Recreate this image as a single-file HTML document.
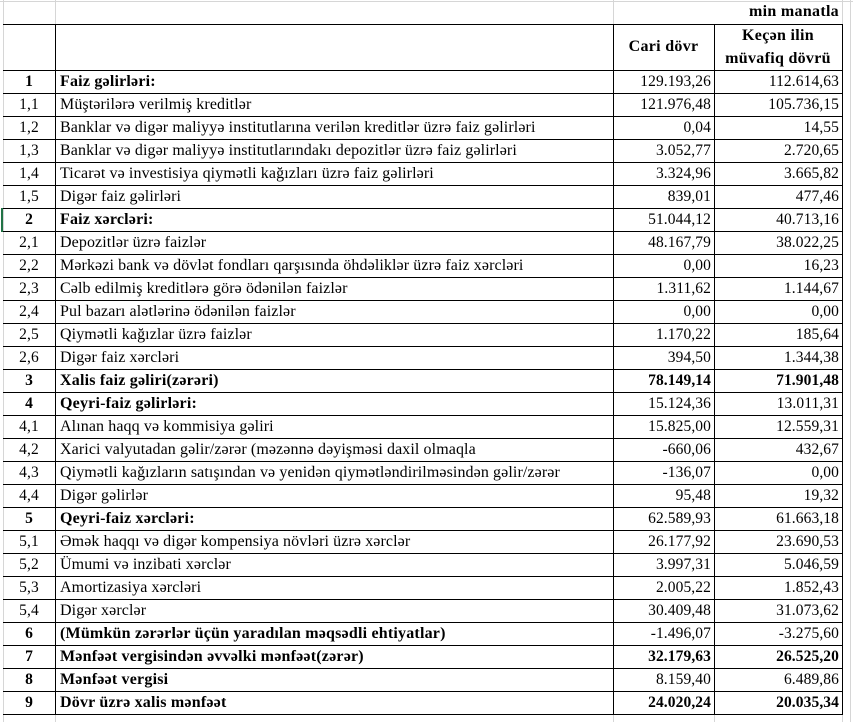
<!DOCTYPE html>
<html><head><meta charset="utf-8">
<style>
html,body{margin:0;padding:0;background:#fff;}
body{width:853px;height:722px;position:relative;overflow:hidden;font-family:"Liberation Serif","DejaVu Serif",serif;color:#000;}
.g{position:absolute;background:#d6d6d6;}
.k{position:absolute;background:#000;}
.r{position:absolute;left:0;width:853px;height:22px;line-height:22px;font-size:16px;white-space:nowrap;letter-spacing:0.1px;}
.n{position:absolute;left:3px;width:52px;text-align:center;font-size:15.5px;}
.l{position:absolute;left:60px;}
.l.B{letter-spacing:0.2px;}
.a{position:absolute;left:613px;width:98px;text-align:right;font-size:15.5px;}
.b{position:absolute;left:714px;width:125px;text-align:right;font-size:15.5px;}
.B{font-weight:bold;}
.h{font-size:16px;letter-spacing:0.3px;}
</style></head><body>
<!-- gray gridlines -->
<div class="g" style="left:0;top:1px;width:853px;height:1px"></div>
<div class="g" style="left:3px;top:0;width:1px;height:722px"></div>
<div class="g" style="left:55px;top:0;width:1px;height:24px"></div>
<div class="g" style="left:613px;top:0;width:1px;height:24px"></div>
<div class="g" style="left:842px;top:0;width:1px;height:24px"></div>
<div class="g" style="left:850px;top:0;width:1px;height:722px"></div>
<div class="g" style="left:55px;top:714px;width:1px;height:8px"></div>
<div class="g" style="left:613px;top:714px;width:1px;height:8px"></div>
<div class="g" style="left:714px;top:714px;width:1px;height:8px"></div>
<div class="g" style="left:842px;top:714px;width:1px;height:8px"></div>
<!-- green marker -->
<div style="position:absolute;left:1px;top:208px;width:2px;height:24px;background:#217346"></div>

<!-- black horizontal lines -->
<div class="k" style="left:3px;top:24px;width:840px;height:1px"></div>
<div class="k" style="left:3px;top:70px;width:840px;height:1px"></div>
<div class="k" style="left:3px;top:93px;width:840px;height:1px"></div>
<div class="k" style="left:3px;top:116px;width:840px;height:1px"></div>
<div class="k" style="left:3px;top:139px;width:840px;height:1px"></div>
<div class="k" style="left:3px;top:162px;width:840px;height:1px"></div>
<div class="k" style="left:3px;top:185px;width:840px;height:1px"></div>
<div class="k" style="left:3px;top:208px;width:840px;height:1px"></div>
<div class="k" style="left:3px;top:231px;width:840px;height:1px"></div>
<div class="k" style="left:3px;top:254px;width:840px;height:1px"></div>
<div class="k" style="left:3px;top:277px;width:840px;height:1px"></div>
<div class="k" style="left:3px;top:300px;width:840px;height:1px"></div>
<div class="k" style="left:3px;top:323px;width:840px;height:1px"></div>
<div class="k" style="left:3px;top:346px;width:840px;height:1px"></div>
<div class="k" style="left:3px;top:369px;width:840px;height:1px"></div>
<div class="k" style="left:3px;top:392px;width:840px;height:1px"></div>
<div class="k" style="left:3px;top:415px;width:840px;height:1px"></div>
<div class="k" style="left:3px;top:438px;width:840px;height:1px"></div>
<div class="k" style="left:3px;top:461px;width:840px;height:1px"></div>
<div class="k" style="left:3px;top:484px;width:840px;height:1px"></div>
<div class="k" style="left:3px;top:507px;width:840px;height:1px"></div>
<div class="k" style="left:3px;top:530px;width:840px;height:1px"></div>
<div class="k" style="left:3px;top:553px;width:840px;height:1px"></div>
<div class="k" style="left:3px;top:576px;width:840px;height:1px"></div>
<div class="k" style="left:3px;top:599px;width:840px;height:1px"></div>
<div class="k" style="left:3px;top:622px;width:840px;height:1px"></div>
<div class="k" style="left:3px;top:645px;width:840px;height:1px"></div>
<div class="k" style="left:3px;top:668px;width:840px;height:1px"></div>
<div class="k" style="left:3px;top:691px;width:840px;height:1px"></div>
<div class="k" style="left:3px;top:714px;width:840px;height:1px"></div>
<!-- black verticals -->
<div class="k" style="left:55px;top:24px;width:1px;height:691px"></div>
<div class="k" style="left:613px;top:24px;width:1px;height:691px"></div>
<div class="k" style="left:714px;top:24px;width:1px;height:691px"></div>
<div class="k" style="left:842px;top:24px;width:1px;height:691px"></div>

<!-- header -->
<div class="r B" style="top:1px"><span class="b h">min manatla</span></div>
<div class="r B" style="top:36px"><span class="a h" style="width:101px;text-align:center">Cari dövr</span></div>
<div class="r B" style="top:24px;height:23px;line-height:23px"><span class="b h" style="width:128px;text-align:center">Keçən ilin</span></div>
<div class="r B" style="top:47px;height:23px;line-height:23px"><span class="b h" style="width:128px;text-align:center">müvafiq dövrü</span></div>

<!-- rows -->
<div class="r" style="top:71px"><span class="n B">1</span><span class="l B">Faiz gəlirləri:</span><span class="a">129.193,26</span><span class="b">112.614,63</span></div>
<div class="r" style="top:94px"><span class="n">1,1</span><span class="l">Müştərilərə verilmiş kreditlər</span><span class="a">121.976,48</span><span class="b">105.736,15</span></div>
<div class="r" style="top:117px"><span class="n">1,2</span><span class="l">Banklar və digər maliyyə institutlarına verilən kreditlər üzrə faiz gəlirləri</span><span class="a">0,04</span><span class="b">14,55</span></div>
<div class="r" style="top:140px"><span class="n">1,3</span><span class="l">Banklar və digər maliyyə institutlarındakı depozitlər üzrə faiz gəlirləri</span><span class="a">3.052,77</span><span class="b">2.720,65</span></div>
<div class="r" style="top:163px"><span class="n">1,4</span><span class="l">Ticarət və investisiya qiymətli kağızları üzrə faiz gəlirləri</span><span class="a">3.324,96</span><span class="b">3.665,82</span></div>
<div class="r" style="top:186px"><span class="n">1,5</span><span class="l">Digər faiz gəlirləri</span><span class="a">839,01</span><span class="b">477,46</span></div>
<div class="r" style="top:209px"><span class="n B">2</span><span class="l B">Faiz xərcləri:</span><span class="a">51.044,12</span><span class="b">40.713,16</span></div>
<div class="r" style="top:232px"><span class="n">2,1</span><span class="l">Depozitlər üzrə faizlər</span><span class="a">48.167,79</span><span class="b">38.022,25</span></div>
<div class="r" style="top:255px"><span class="n">2,2</span><span class="l">Mərkəzi bank və dövlət fondları qarşısında öhdəliklər üzrə faiz xərcləri</span><span class="a">0,00</span><span class="b">16,23</span></div>
<div class="r" style="top:278px"><span class="n">2,3</span><span class="l">Cəlb edilmiş kreditlərə görə ödənilən faizlər</span><span class="a">1.311,62</span><span class="b">1.144,67</span></div>
<div class="r" style="top:301px"><span class="n">2,4</span><span class="l">Pul bazarı alətlərinə ödənilən faizlər</span><span class="a">0,00</span><span class="b">0,00</span></div>
<div class="r" style="top:324px"><span class="n">2,5</span><span class="l">Qiymətli kağızlar üzrə faizlər</span><span class="a">1.170,22</span><span class="b">185,64</span></div>
<div class="r" style="top:347px"><span class="n">2,6</span><span class="l">Digər faiz xərcləri</span><span class="a">394,50</span><span class="b">1.344,38</span></div>
<div class="r" style="top:370px"><span class="n B">3</span><span class="l B">Xalis faiz gəliri(zərəri)</span><span class="a B">78.149,14</span><span class="b B">71.901,48</span></div>
<div class="r" style="top:393px"><span class="n B">4</span><span class="l B">Qeyri-faiz gəlirləri:</span><span class="a">15.124,36</span><span class="b">13.011,31</span></div>
<div class="r" style="top:416px"><span class="n">4,1</span><span class="l">Alınan haqq və kommisiya gəliri</span><span class="a">15.825,00</span><span class="b">12.559,31</span></div>
<div class="r" style="top:439px"><span class="n">4,2</span><span class="l">Xarici valyutadan gəlir/zərər (məzənnə dəyişməsi daxil olmaqla</span><span class="a">-660,06</span><span class="b">432,67</span></div>
<div class="r" style="top:462px"><span class="n">4,3</span><span class="l">Qiymətli kağızların satışından və yenidən qiymətləndirilməsindən gəlir/zərər</span><span class="a">-136,07</span><span class="b">0,00</span></div>
<div class="r" style="top:485px"><span class="n">4,4</span><span class="l">Digər gəlirlər</span><span class="a">95,48</span><span class="b">19,32</span></div>
<div class="r" style="top:508px"><span class="n B">5</span><span class="l B">Qeyri-faiz xərcləri:</span><span class="a">62.589,93</span><span class="b">61.663,18</span></div>
<div class="r" style="top:531px"><span class="n">5,1</span><span class="l">Əmək haqqı və digər kompensiya növləri üzrə xərclər</span><span class="a">26.177,92</span><span class="b">23.690,53</span></div>
<div class="r" style="top:554px"><span class="n">5,2</span><span class="l">Ümumi və inzibati xərclər</span><span class="a">3.997,31</span><span class="b">5.046,59</span></div>
<div class="r" style="top:577px"><span class="n">5,3</span><span class="l">Amortizasiya xərcləri</span><span class="a">2.005,22</span><span class="b">1.852,43</span></div>
<div class="r" style="top:600px"><span class="n">5,4</span><span class="l">Digər xərclər</span><span class="a">30.409,48</span><span class="b">31.073,62</span></div>
<div class="r" style="top:623px"><span class="n B">6</span><span class="l B">(Mümkün zərərlər üçün yaradılan məqsədli ehtiyatlar)</span><span class="a">-1.496,07</span><span class="b">-3.275,60</span></div>
<div class="r" style="top:646px"><span class="n B">7</span><span class="l B">Mənfəət vergisindən əvvəlki mənfəət(zərər)</span><span class="a B">32.179,63</span><span class="b B">26.525,20</span></div>
<div class="r" style="top:669px"><span class="n B">8</span><span class="l B">Mənfəət vergisi</span><span class="a">8.159,40</span><span class="b">6.489,86</span></div>
<div class="r" style="top:692px"><span class="n B">9</span><span class="l B">Dövr üzrə xalis mənfəət</span><span class="a B">24.020,24</span><span class="b B">20.035,34</span></div>
</body></html>
